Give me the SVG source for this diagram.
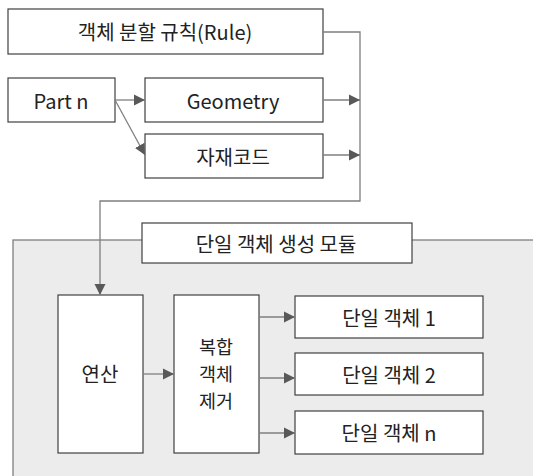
<svg xmlns="http://www.w3.org/2000/svg" width="533" height="476" viewBox="0 0 533 476">
<defs>
<style>
.box{fill:#fff;stroke:#404040;stroke-width:1.2}
.t{font-family:"Noto Sans CJK KR","Noto Sans",sans-serif;font-size:20px;fill:#222;text-anchor:middle;dominant-baseline:central}
.s{font-size:18.5px}
.c{fill:none;stroke:#7f7f7f;stroke-width:1.3}
</style>
<marker id="a" markerWidth="12" markerHeight="12" refX="11" refY="6" orient="auto" markerUnits="userSpaceOnUse">
<path d="M0,0.5 L11,6 L0,11.5 Z" fill="#595959"/>
</marker>
</defs>
<g id="module">
<rect x="13" y="240" width="530" height="245" fill="#ececec" stroke="#7f7f7f" stroke-width="1.3"/>
</g>
<g id="rule"><rect class="box" x="8" y="9" width="315" height="45"/><text class="t" x="165" y="31">객체 분할 규칙(Rule)</text></g>
<g id="partn"><rect class="box" x="8" y="78" width="107" height="44"/><text class="t" x="61" y="100">Part n</text></g>
<g id="geometry"><rect class="box" x="145" y="78" width="178" height="44"/><text class="t" x="233" y="100">Geometry</text></g>
<g id="code"><rect class="box" x="145" y="134" width="178" height="44"/><text class="t" x="233" y="156">자재코드</text></g>
<g id="title"><rect class="box" x="142" y="223" width="270" height="40"/><text class="t" x="276" y="243">단일 객체 생성 모듈</text></g>
<g id="calc"><rect class="box" x="58" y="295" width="85" height="158"/><text class="t" x="100" y="373">연산</text></g>
<g id="remove"><rect class="box" x="174" y="295" width="85" height="158"/><text class="t s" x="216" y="346">복합</text><text class="t s" x="216" y="373">객체</text><text class="t s" x="216" y="400">제거</text></g>
<g id="s1"><rect class="box" x="295" y="296" width="188" height="42"/><text class="t" x="389" y="317">단일 객체 1</text></g>
<g id="s2"><rect class="box" x="295" y="353" width="188" height="42"/><text class="t" x="389" y="374">단일 객체 2</text></g>
<g id="sn"><rect class="box" x="295" y="411" width="188" height="43"/><text class="t" x="389" y="432">단일 객체 n</text></g>
<g id="connectors">
<path class="c" d="M323,32 H360 V201 H100 V295" marker-end="url(#a)"/>
<path class="c" d="M115,100 H145" marker-end="url(#a)"/>
<path class="c" d="M115,100 L145,155" marker-end="url(#a)"/>
<path class="c" d="M323,100 H360" marker-end="url(#a)"/>
<path class="c" d="M323,155 H360" marker-end="url(#a)"/>
<path class="c" d="M143,374 H174" marker-end="url(#a)"/>
<path class="c" d="M259,317 H295" marker-end="url(#a)"/>
<path class="c" d="M259,378 H295" marker-end="url(#a)"/>
<path class="c" d="M259,433 H295" marker-end="url(#a)"/>
</g>
</svg>
